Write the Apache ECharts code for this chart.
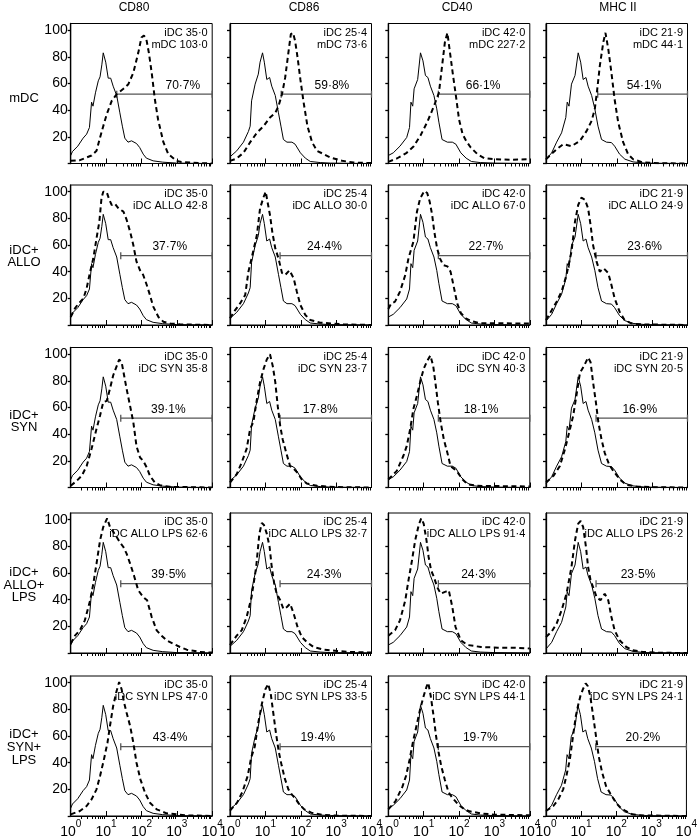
<!DOCTYPE html>
<html><head><meta charset="utf-8">
<script src="https://cdn.jsdelivr.net/npm/echarts@6.0.0/dist/echarts.min.js"></script>
<style>html,body{margin:0;padding:0;background:#fff}#c{width:700px;height:839px}</style>
</head><body><div id="c"></div>
<script>
// ---------------- DATA ----------------
// Each curve: [log10 fluorescence intensity, events (% of max)]
const markers = ['CD80', 'CD86', 'CD40', 'MHC II'];
const rowLabels = ['mDC', 'iDC+\nALLO', 'iDC+\nSYN', 'iDC+\nALLO+\nLPS', 'iDC+\nSYN+\nLPS'];
const condNames = ['mDC', 'iDC ALLO', 'iDC SYN', 'iDC ALLO LPS', 'iDC SYN LPS'];
const iDCmfi = [35.0, 25.4, 42.0, 21.9];
const condMfi = [
  [103.0, 73.6, 227.2, 44.1],
  [42.8, 30.0, 67.0, 24.9],
  [35.8, 23.7, 40.3, 20.5],
  [62.6, 32.7, 91.4, 26.2],
  [47.0, 33.5, 44.1, 24.1]
];
const pctPositive = [
  [70.7, 59.8, 66.1, 54.1],
  [37.7, 24.4, 22.7, 23.6],
  [39.1, 17.8, 18.1, 16.9],
  [39.5, 24.3, 24.3, 23.5],
  [43.4, 19.4, 19.7, 20.2]
];
const gateStart = [
  [20, 28, 26, 29],
  [26, 26, 26, 26],
  [26, 26, 26, 26],
  [26, 26, 26, 26],
  [26, 26, 26, 26]
];
const gateLevel = 52;
const gateEnd = 10000;
const yTickValues = [20, 40, 60, 80, 100];

// iDC reference histograms (solid), one per marker
const iDC_CD80 = [[0,6],[0.05,9],[0.2,13],[0.35,19],[0.45,22],[0.53,27],[0.59,46],[0.63,43],[0.7,53],[0.78,62],[0.83,65],[0.88,74],[0.92,83],[0.99,76],[1.06,64],[1.13,64],[1.2,58],[1.3,51],[1.39,38],[1.46,28],[1.53,19],[1.62,16],[1.72,17],[1.86,15],[1.95,12],[2.05,7],[2.14,4],[2.33,2],[2.6,1],[3.0,0.3],[4,0]];
const iDC_CD86 = [[0,5],[0.02,6],[0.19,9.5],[0.38,16],[0.52,24],[0.57,28],[0.61,47],[0.66,46],[0.71,59.5],[0.8,67],[0.85,76],[0.92,83],[0.97,76],[1.04,63],[1.12,64.5],[1.18,58],[1.28,51],[1.37,38],[1.44,28],[1.51,18],[1.61,16],[1.75,16],[1.84,14.5],[1.99,8],[2.13,4],[2.27,1.5],[2.55,0.7],[2.84,0.3],[4,0]];
const iDC_CD40 = [[0,6],[0.14,8],[0.33,13],[0.52,19.5],[0.6,27],[0.64,46],[0.69,43],[0.73,56],[0.83,63],[0.91,83],[0.98,77],[1.05,66],[1.12,64.5],[1.19,58],[1.29,51],[1.37,41],[1.43,31],[1.52,18],[1.67,16],[1.81,16],[1.91,14.5],[2.05,8],[2.2,4],[2.35,1.5],[2.6,0.7],[3,0.3],[4,0]];
const iDC_MHCII = [[0,3],[0.16,8],[0.3,16],[0.44,23],[0.56,34.5],[0.6,46],[0.65,43],[0.72,59.5],[0.82,66],[0.91,83],[0.98,76],[1.05,63],[1.13,64.5],[1.19,58],[1.29,51],[1.38,41],[1.47,28],[1.57,18],[1.71,16],[1.85,15.7],[1.94,13],[2.08,7],[2.23,3.25],[2.46,1.2],[2.8,0.3],[4,0]];

// mDC (dashed)
const mDC_CD80 = [[0,2],[0.26,2.5],[0.59,6],[0.73,9.5],[0.83,19.5],[0.92,28],[1.02,37],[1.16,47],[1.3,52],[1.49,56],[1.63,59.5],[1.77,68],[1.91,83],[2.0,94.5],[2.07,96],[2.14,93],[2.21,83],[2.29,68],[2.38,48],[2.47,33],[2.62,16],[2.76,7],[2.99,2],[3.13,1.2],[3.65,0.3],[4,0]];
const mDC_CD86 = [[0,2],[0.19,3.75],[0.38,8],[0.57,16],[0.76,23],[0.95,28],[1.13,34.5],[1.28,38],[1.37,43],[1.47,52],[1.56,64.5],[1.65,83],[1.72,97],[1.78,98],[1.84,92],[1.91,79.5],[1.99,63],[2.08,46],[2.19,28],[2.32,16],[2.46,9.5],[2.65,7],[2.84,4.5],[3.17,2],[3.5,0.75],[4,0.3]];
const mDC_CD40 = [[0,1.2],[0.24,3.75],[0.52,8],[0.72,13],[0.91,21],[1.1,31],[1.29,43],[1.43,53],[1.52,73],[1.6,91],[1.67,98],[1.73,86],[1.82,68],[1.91,51],[2.0,33],[2.1,22],[2.2,17],[2.33,12],[2.52,7],[2.71,4],[3.0,3.2],[3.5,2.8],[4,3.2]];
const mDC_MHCII = [[0,3.25],[0.3,10.75],[0.49,14.5],[0.72,13],[0.96,17],[1.15,24.5],[1.29,32],[1.38,41],[1.45,56],[1.52,73],[1.62,91],[1.68,98],[1.76,86],[1.85,68],[1.94,48],[2.04,31],[2.18,16],[2.32,7],[2.46,3.25],[2.74,0.75],[3.2,0.2],[4,0]];

// iDC + ALLO (dashed)
const allo_CD80 = [[0,6],[0.12,12.5],[0.22,16],[0.36,20],[0.45,27.5],[0.55,40],[0.64,50],[0.73,65],[0.81,77.5],[0.87,95],[0.92,100],[1.02,99.5],[1.09,94],[1.16,90],[1.25,91],[1.35,87.5],[1.49,85],[1.58,79],[1.68,70],[1.77,60],[1.86,47.5],[1.96,41],[2.05,37.5],[2.15,30],[2.24,22.5],[2.33,14],[2.48,6],[2.62,2.5],[2.81,1.2],[3.09,0.5],[4,0]];
const allo_CD86 = [[0,5],[0.14,11],[0.28,16],[0.43,22.5],[0.52,40],[0.61,50],[0.76,67.5],[0.85,87.5],[0.95,96],[1.01,100],[1.06,92.5],[1.13,82.5],[1.2,69],[1.28,57.5],[1.37,50],[1.47,39],[1.56,37.5],[1.68,41],[1.8,35],[1.89,25],[1.99,15],[2.13,7.5],[2.27,3.75],[2.55,1.75],[2.93,1],[3.2,0.5],[4,0]];
const allo_CD40 = [[0,12],[0.08,16],[0.19,17.5],[0.33,25],[0.48,37.5],[0.57,50],[0.71,62.5],[0.81,85],[0.9,95],[1.02,100.5],[1.1,99],[1.17,92.5],[1.24,82.5],[1.3,70],[1.38,57.5],[1.46,50],[1.55,45],[1.67,44],[1.76,40],[1.86,27.5],[1.95,16],[2.05,9],[2.19,5],[2.33,3],[2.62,1.25],[4,1.2]];
const allo_MHCII = [[0,3.75],[0.16,11],[0.3,17.5],[0.44,25],[0.58,37.5],[0.72,55],[0.82,77.5],[0.91,90],[1.0,95.5],[1.1,94],[1.19,87.5],[1.26,75],[1.33,60],[1.43,47.5],[1.52,40],[1.63,42.5],[1.76,39],[1.85,30],[1.94,20],[2.08,10],[2.22,3.75],[2.41,1.25],[2.65,0.5],[4,0]];

// iDC + SYN (dashed)
const syn_CD80 = [[0,1.25],[0.17,5],[0.31,8.75],[0.45,16],[0.59,29],[0.73,44],[0.83,54],[0.92,64],[1.02,65],[1.11,74],[1.2,84],[1.3,91],[1.37,96],[1.44,94],[1.51,84],[1.58,74],[1.68,61],[1.77,49],[1.86,31],[1.96,22.5],[2.05,20],[2.15,15],[2.24,8.75],[2.38,3.75],[2.52,1.75],[2.8,0.5],[4,0]];
const syn_CD86 = [[0,3.75],[0.19,10],[0.33,18.75],[0.47,29],[0.57,44],[0.66,49],[0.76,66],[0.85,79],[0.95,89],[1.04,96],[1.13,100],[1.21,91],[1.28,79],[1.35,61],[1.42,46],[1.49,36],[1.59,26],[1.7,16],[1.8,14],[1.91,11],[2.03,6],[2.17,3],[2.46,1.25],[3,0.3],[4,0]];
const syn_CD40 = [[0,6],[0.24,12.5],[0.43,24],[0.52,31],[0.62,44],[0.71,59],[0.81,69],[0.9,79],[1.0,89],[1.1,95],[1.19,99],[1.27,91],[1.33,79],[1.4,64],[1.48,49],[1.57,36],[1.67,26],[1.76,16],[1.86,14],[1.97,11],[2.1,6],[2.24,2.5],[2.52,1.25],[4,0.75]];
const syn_MHCII = [[0,3.75],[0.21,8.75],[0.39,16],[0.54,29],[0.68,44],[0.77,54],[0.86,69],[0.96,86],[1.07,91],[1.19,97.5],[1.26,94],[1.33,79],[1.41,64],[1.48,49],[1.57,36],[1.66,26],[1.78,17.5],[1.9,12.5],[2.01,8.75],[2.13,5],[2.27,2],[2.55,0.75],[3,0.2],[4,0]];

// iDC + ALLO + LPS (dashed)
const alloLps_CD80 = [[0,7],[0.12,13],[0.26,17],[0.4,24.5],[0.55,39.5],[0.64,52],[0.73,67],[0.83,84.5],[0.92,94.5],[1.03,101],[1.11,94.5],[1.2,91],[1.3,87],[1.39,83],[1.49,79.5],[1.58,74.5],[1.68,67],[1.79,58],[1.91,47],[2.05,42],[2.16,39.5],[2.29,27],[2.43,17],[2.57,13],[2.71,9.5],[2.9,7],[3.09,4.5],[3.28,2.5],[3.65,0.8],[4,0.3]];
const alloLps_CD86 = [[0,6],[0.19,13],[0.33,17],[0.47,27],[0.61,42],[0.74,64.5],[0.83,89.5],[0.9,97.5],[0.96,96],[1.04,89.5],[1.12,79.5],[1.18,64.5],[1.25,52],[1.32,44.5],[1.42,39.5],[1.51,33],[1.61,34.5],[1.7,37],[1.8,29.5],[1.91,19.5],[2.03,12],[2.17,8.25],[2.36,4.5],[2.65,2.5],[3.03,1.5],[3.4,0.8],[4,0.3]];
const alloLps_CD40 = [[0,13],[0.19,17],[0.33,24.5],[0.48,39.5],[0.57,54.5],[0.67,69.5],[0.76,84.5],[0.86,96],[0.93,101],[1.0,97],[1.08,84.5],[1.14,72],[1.21,62],[1.29,57],[1.38,49.5],[1.48,44.5],[1.62,46],[1.71,47],[1.81,34.5],[1.9,19.5],[2.05,9.5],[2.24,6],[2.62,4.5],[3.1,4],[3.57,3.9],[4,3.4]];
const alloLps_MHCII = [[0,12],[0.16,16],[0.3,22],[0.44,32],[0.58,44.5],[0.72,64.5],[0.82,84.5],[0.91,97],[0.98,99],[1.05,94.5],[1.13,79.5],[1.19,64.5],[1.26,54.5],[1.33,49.5],[1.43,42],[1.54,39.5],[1.66,44.5],[1.76,39.5],[1.85,27],[1.94,17],[2.08,9.5],[2.27,4.5],[2.46,2],[2.74,0.8],[3.2,0.2],[4,0]];

// iDC + SYN + LPS (dashed)
const synLps_CD80 = [[0,1.25],[0.26,3.75],[0.45,7.5],[0.59,12.5],[0.73,20],[0.83,30],[0.94,42.5],[1.04,55],[1.11,67.5],[1.2,82.5],[1.3,94],[1.37,100.5],[1.44,95],[1.51,85],[1.58,77.5],[1.68,67.5],[1.77,55],[1.86,40],[1.97,27.5],[2.1,17.5],[2.24,10],[2.43,5],[2.71,2],[2.99,1.25],[3.28,0.5],[4,0]];
const synLps_CD86 = [[0,4],[0.2,10],[0.35,18],[0.5,30],[0.6,44],[0.7,52],[0.8,70],[0.9,84],[1.0,95],[1.08,99],[1.15,92],[1.22,78],[1.3,62],[1.38,48],[1.46,38],[1.55,28],[1.65,20],[1.75,16],[1.85,13],[1.95,9],[2.1,5],[2.3,2.5],[2.6,1],[3,0.3],[4,0]];
const synLps_CD40 = [[0,5],[0.2,11],[0.4,22],[0.5,30],[0.6,42],[0.7,56],[0.8,68],[0.9,80],[1.0,90],[1.08,97],[1.13,100],[1.2,90],[1.28,75],[1.35,60],[1.42,48],[1.5,37],[1.6,27],[1.7,18],[1.8,14],[1.9,11],[2.0,8],[2.15,5],[2.3,3.5],[2.6,2],[3,1],[4,0.5]];
const synLps_MHCII = [[0,3.75],[0.21,7.5],[0.35,12.5],[0.49,20],[0.58,30],[0.68,42.5],[0.77,60],[0.85,75],[0.91,82.5],[0.98,90],[1.05,95],[1.13,99.5],[1.19,97.5],[1.26,90],[1.33,77.5],[1.41,62.5],[1.5,45],[1.6,32.5],[1.71,22.5],[1.85,16],[1.99,10],[2.13,6],[2.27,3.75],[2.46,1.25],[2.65,0.5],[4,0]];

const solidCurves = [iDC_CD80, iDC_CD86, iDC_CD40, iDC_MHCII];
const dashedCurves = [
  [mDC_CD80, mDC_CD86, mDC_CD40, mDC_MHCII],
  [allo_CD80, allo_CD86, allo_CD40, allo_MHCII],
  [syn_CD80, syn_CD86, syn_CD40, syn_MHCII],
  [alloLps_CD80, alloLps_CD86, alloLps_CD40, alloLps_MHCII],
  [synLps_CD80, synLps_CD86, synLps_CD40, synLps_MHCII]
];

// ---------------- LAYOUT (positions / styles only) ----------------
const FONT = '"Liberation Sans", Arial, sans-serif';
const colLeft = [70.7, 230, 388.3, 546];
const rowTop = [23.5, 185, 347.5, 513, 676];
const panelW = 141.5, panelH = 140;
const pctLabelLog = [
  [3.17, 2.88, 2.68, 2.77],
  [2.8, 2.67, 2.76, 2.79],
  [2.76, 2.55, 2.62, 2.65],
  [2.77, 2.66, 2.55, 2.6],
  [2.81, 2.48, 2.6, 2.76]
];
const titleX = [134, 304, 457, 618];
const rowLabelY = [98, 256.5, 421.5, 585, 747.5];

const fmt = v => v.toFixed(1).replace('.', '\u00b7');
const toLin = curve => curve.map(p => [Math.pow(10, p[0]), p[1]]);

const minorPos = [];
for (let d = 0; d < 4; d++) for (let k = 2; k <= 9; k++) minorPos.push(d + Math.log10(k));

const grids = [], xAxes = [], yAxes = [], series = [], graphics = [];
for (let r = 0; r < 5; r++) {
  for (let c = 0; c < 4; c++) {
    const i = r * 4 + c;
    grids.push({ left: colLeft[c], top: rowTop[r], width: panelW, height: panelH,
      show: true, borderColor: '#000', borderWidth: 1, backgroundColor: 'transparent' });
    xAxes.push({
      type: 'log', logBase: 10, gridIndex: i, min: 1, max: 10000,
      axisLine: { show: true, onZero: false, lineStyle: { color: '#000', width: 1 } },
      axisTick: { show: true, inside: true, length: 5, lineStyle: { color: '#000', width: 1 } },
      splitLine: { show: false },
      axisLabel: {
        show: r === 4, margin: 3, color: '#000', fontFamily: FONT,
        formatter: v => '{a|10}{b|' + Math.round(Math.log10(v)) + '}',
        rich: {
          a: { fontSize: 14, fontFamily: FONT, color: '#000', padding: [6, 0, 0, 0], verticalAlign: 'bottom' },
          b: { fontSize: 10, fontFamily: FONT, color: '#000', verticalAlign: 'top' }
        }
      }
    });
    xAxes.push({
      type: 'value', gridIndex: i, min: 0, max: 4,
      axisLine: { show: false }, axisLabel: { show: false }, splitLine: { show: false },
      axisTick: { show: true, inside: true, length: 3, customValues: minorPos, lineStyle: { color: '#000', width: 1 } }
    });
    yAxes.push({
      type: 'value', gridIndex: i, min: 0, max: 105, interval: 20,
      axisLine: { show: true, onZero: false, lineStyle: { color: '#000', width: 1.3 } },
      axisTick: { show: true, inside: false, length: 3, customValues: [0, 20, 40, 60, 80, 100], lineStyle: { color: '#000', width: 1.3 } },
      splitLine: { show: false },
      axisLabel: { show: c === 0, customValues: yTickValues, fontSize: 14, margin: 3, color: '#000', fontFamily: FONT }
    });
    // gate marker
    series.push({
      type: 'line', xAxisIndex: 2 * i, yAxisIndex: i, silent: true, animation: false,
      data: [[gateStart[r][c], gateLevel], [gateEnd, gateLevel]],
      symbol: 'rect', symbolSize: [1.3, 7], showSymbol: true,
      itemStyle: { color: '#555' }, lineStyle: { color: '#555', width: 1.2 }, z: 1
    });
    // iDC (solid)
    series.push({
      type: 'line', xAxisIndex: 2 * i, yAxisIndex: i, silent: true, animation: false,
      data: toLin(solidCurves[c]), showSymbol: false, symbol: 'none',
      lineStyle: { color: '#000', width: 1 }, z: 2
    });
    // condition (dashed)
    series.push({
      type: 'line', xAxisIndex: 2 * i, yAxisIndex: i, silent: true, animation: false,
      data: toLin(dashedCurves[r][c]), showSymbol: false, symbol: 'none',
      lineStyle: { color: '#000', width: 2, type: [5, 3.5] }, z: 2
    });
    // annotation text (MFI values)
    graphics.push({
      type: 'text', x: colLeft[c] + panelW - 4.5, y: rowTop[r] + 3, silent: true,
      style: { text: 'iDC ' + fmt(iDCmfi[c]) + '\n' + condNames[r] + ' ' + fmt(condMfi[r][c]),
        font: '11px ' + FONT, align: 'right', textAlign: 'right', verticalAlign: 'top', textVerticalAlign: 'top',
        lineHeight: 12, fill: '#000' }
    });
  }
}
markers.forEach((m, c) => graphics.push({
  type: 'text', x: titleX[c], y: 7.5, silent: true,
  style: { text: m, font: '12px ' + FONT, align: 'center', textAlign: 'center', verticalAlign: 'middle', textVerticalAlign: 'middle', fill: '#000' }
}));
rowLabels.forEach((t, r) => graphics.push({
  type: 'text', x: 24, y: rowLabelY[r], silent: true,
  style: { text: t, font: '13px ' + FONT, align: 'center', textAlign: 'center', verticalAlign: 'middle', textVerticalAlign: 'middle', lineHeight: 12.7, fill: '#000' }
}));

const chart = echarts.init(document.getElementById('c'), null, { renderer: 'canvas' });
chart.setOption({
  animation: false,
  backgroundColor: '#fff',
  textStyle: { fontFamily: FONT },
  grid: grids, xAxis: xAxes, yAxis: yAxes, series: series
});
// percentage labels placed above the gate through the panel's own scales
for (let r = 0; r < 5; r++) {
  for (let c = 0; c < 4; c++) {
    const i = r * 4 + c;
    const p = chart.convertToPixel({ xAxisIndex: 2 * i, yAxisIndex: i }, [Math.pow(10, pctLabelLog[r][c]), gateLevel]);
    graphics.push({
      type: 'text', x: p[0], y: p[1] - 2.5, silent: true,
      style: { text: fmt(pctPositive[r][c]) + '%', font: '12px ' + FONT, align: 'center', textAlign: 'center',
        verticalAlign: 'bottom', textVerticalAlign: 'bottom', fill: '#000' }
    });
  }
}
chart.setOption({ graphic: graphics });
</script></body></html>
